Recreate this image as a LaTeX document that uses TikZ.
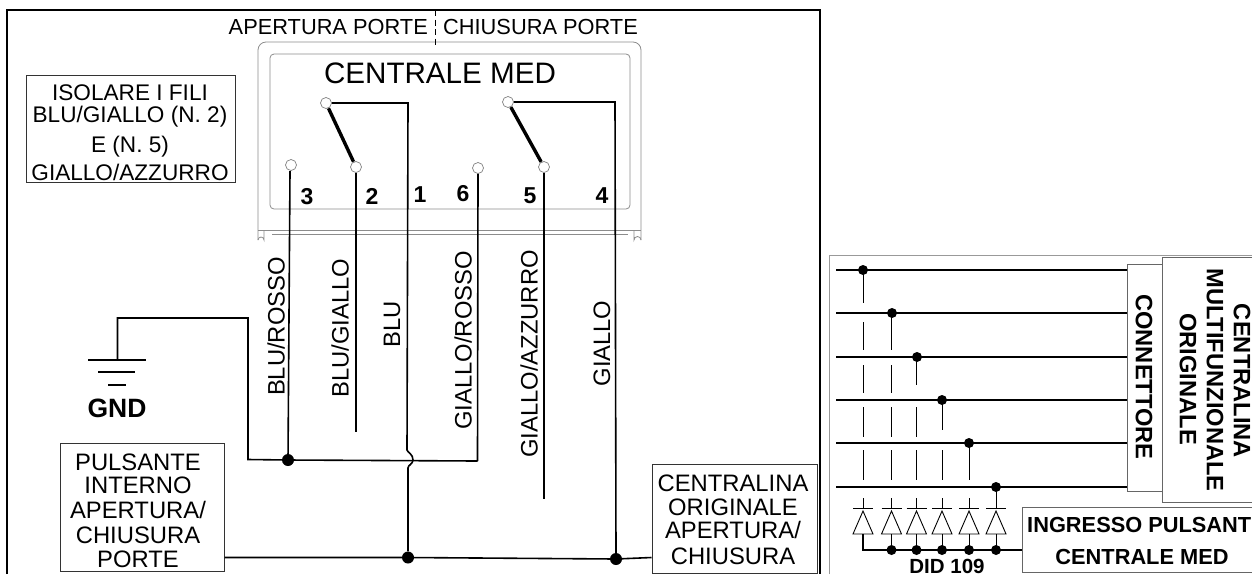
\documentclass[tikz,border=0pt]{standalone}
\usepackage{fontspec}
\setmainfont{Liberation Sans}
\tikzset{
  wire/.style={line width=1.6pt,black},
  thin wire/.style={line width=1.1pt,black},
  shell/.style={line width=0.8pt,black!45},
  dotmark/.style={circle,fill=black,inner sep=0pt,minimum size=12pt},
  smalldot/.style={circle,fill=black,inner sep=0pt,minimum size=10pt},
  term/.style={circle,draw=black!50,fill=white,line width=0.7pt,inner sep=0pt,minimum size=11pt},
  lab/.style={inner sep=0pt,font=\fontsize{23.8}{24}\selectfont},
  notelab/.style={inner sep=0pt,font=\fontsize{22.6}{23}\selectfont},
  toplab/.style={inner sep=0pt,font=\fontsize{21.8}{22}\selectfont},
  vlab/.style={inner sep=0pt,rotate=90,font=\fontsize{23.8}{24}\selectfont},
  num/.style={inner sep=0pt,font=\fontsize{23}{23}\selectfont\bfseries},
  blab/.style={inner sep=0pt,rotate=-90,font=\fontsize{23.7}{24}\selectfont\bfseries},
  bfl/.style={inner sep=0pt,font=\fontsize{21.8}{22}\selectfont\bfseries},
  stack/.style={draw=black!80,line width=1pt,inner sep=0pt},
  panelbox/.style={draw=black!60,line width=0.9pt,fill=white,inner sep=0pt},
  diode/.style={line width=0.9pt,black}
}
\begin{document}
\begin{tikzpicture}[x=1pt,y=-1pt]
\useasboundingbox (0,0) rectangle (1252,574);
\clip (0,0) rectangle (1252,574);
% frames
\draw[line width=1.2pt] (7,574) -- (7,10) -- (820,10) -- (820,574);
\draw[line width=0.9pt,black!40] (829,574) -- (829,255) -- (1252,255);
% shell
\draw[shell,rounded corners=8pt] (258,240) -- (258,42) -- (641,42) -- (641,240);
\draw[shell,rounded corners=4pt] (270,209) -- (270,54) -- (630,54) -- (630,209) -- cycle;
\draw[shell] (258,230) -- (641,230);
\draw[shell] (272,234) -- (628,234);
\draw[shell] (264,230) -- (264,240) arc (0:180:3pt);
\draw[shell] (634,230) -- (634,240) arc (180:0:3.5pt);
% top texts
\node[toplab,anchor=east] (ap) at (428,27) {APERTURA PORTE};
\node[toplab,anchor=west] (ch) at (443,27) {CHIUSURA PORTE};
\coordinate (dt) at (435.5,10); \coordinate (db) at (435.5,46);
\draw[line width=1.8pt,dash pattern=on 6pt off 3.5pt] (dt) -- (db);
\node[inner sep=0pt,font=\fontsize{29.6}{30}\selectfont] (cm) at (440,73) {CENTRALE MED};
% note box
\node[stack,minimum width=209pt,minimum height=107pt] (note) at (130.5,128.5) {};
\node[notelab] (n1) at (130,93) {ISOLARE I FILI};
\node[notelab] (n2) at (130,117) {BLU/GIALLO (N. 2)};
\node[notelab] (n3) at (130,147) {E (N. 5)};
\node[notelab] (n4) at (130,172) {GIALLO/AZZURRO};
% terminals & wires
\coordinate (j1a) at (407,450); \coordinate (j1b) at (408,468);
\coordinate (gc) at (248,318); \coordinate (gt) at (117.5,318); \coordinate (gb) at (117.5,360);
\node[term] (t3) at (291,165) {};
\node[term] (t2) at (356,167) {};
\node[term] (t1) at (326,103) {};
\node[term] (t6) at (478,168) {};
\node[term] (t5) at (544,167) {};
\node[term] (t4) at (508,102) {};
\node[dotmark] (d3) at (288,460) {};
\node[dotmark] (db1) at (408,557.5) {};
\node[dotmark] (db4) at (616,559) {};
\coordinate (e2) at (356,432);
\coordinate (e5) at (544,499);
\coordinate (e6) at (477.5,461);
\draw[line width=3.4pt] (t1) -- (t2);
\draw[line width=3.4pt] (t4) -- (t5);
\draw[wire] (t1.east) -- (408,103) -- (j1a) .. controls (408,453) and (413,454) .. (413,460) .. controls (413,464) and (408,465) .. (j1b) -- (db1);
\draw[wire] (t4.east) -- (615,102) -- (db4);
\draw[wire] (290,171) -- (d3);
\draw[wire] (t2.south) -- (e2);
\draw[wire] (t6.south) -- (e6);
\draw[wire] (t5.south) -- (e5);
\draw[wire] (gb) -- (gt) -- (gc) -- (248,459.5) -- (d3) -- (e6);
% ground
\draw[line width=1.6pt] (88,360) -- (146,360);
\draw[line width=1.6pt] (98,372) -- (135,372);
\draw[line width=1.6pt] (108,385) -- (126,385);
\node[inner sep=0pt,font=\fontsize{26.5}{27}\selectfont\bfseries] (gnd) at (117,408) {GND};
% numbers
\node[num] (n3n) at (307,197) {3};
\node[num] (n2n) at (372,196) {2};
\node[num] (n1n) at (420,195) {1};
\node[num] (n6n) at (463,194) {6};
\node[num] (n5n) at (530,196) {5};
\node[num] (n4n) at (602,196) {4};
% wire labels
\node[vlab] (l1) at (276,326.5) {BLU/ROSSO};
\node[vlab] (l2) at (340,328) {BLU/GIALLO};
\node[vlab] (l3) at (392,324.5) {BLU};
\node[vlab] (l4) at (463,340.5) {GIALLO/ROSSO};
\node[vlab] (l5) at (529,354) {GIALLO/AZZURRO};
\node[vlab] (l6) at (602,343.5) {GIALLO};
% boxes
\node[stack,minimum width=164pt,minimum height=128pt] (puls) at (142,507) {};
\node[lab] at (138,462) {PULSANTE};
\node[lab] at (138,485) {INTERNO};
\node[lab] at (138,510) {APERTURA/};
\node[lab] at (138,535) {CHIUSURA};
\node[lab] at (138,559) {PORTE};
\node[stack,minimum width=165pt,minimum height=109pt] (cent) at (734.5,518.5) {};
\node[lab] at (733,483) {CENTRALINA};
\node[lab] at (733,507) {ORIGINALE};
\node[lab] at (733,530) {APERTURA/};
\node[lab] at (733,556) {CHIUSURA};
\draw[wire] (puls.east |- db1) -- (db1) -- (db4) -- (cent.west |- db1);
% right panel
\node[panelbox,minimum width=35pt,minimum height=227pt] (conn) at (1144.5,377.5) {};
\node[panelbox,minimum width=100pt,minimum height=245pt] (cmf) at (1212,379.5) {};
\node[blab] at (1144,377) {CONNETTORE};
\node[blab] at (1242,381) {CENTRALINA};
\node[blab] at (1215,380) {MULTIFUNZIONALE};
\node[blab] at (1188,379) {ORIGINALE};
\foreach \y/\x/\n in {270/863/a,313/892/b,357/917/c,400/942/d,443/969/e,487/996/f}{
  \node[smalldot] (h\n) at (\x,\y) {};
  \coordinate (s\n) at (836,\y);
  \draw[thin wire] (s\n) -- (conn.west |- s\n);
}
% verticals
\foreach \x/\a/\b in {863/270/303,863/322/350,863/365/393,863/407/437,863/450/480,
  891.5/313/350,891.5/365/393,891.5/407/437,891.5/450/480,
  916.5/357/385,916.5/407/437,916.5/450/480,
  942/400/430,942/450/480,
  969/443/480}{
  \draw[line width=0.9pt] (\x,\a) -- (\x,\b);
}
\draw[line width=0.9pt] (996,487) -- (996,508);
% diodes
\foreach \x/\n in {863/a,891.5/b,916.5/c,942/d,969/e,996/f}{
  \draw[diode] (\x-10,508) -- (\x+10,508);
  \draw[diode] (\x,498) -- (\x,508);
  \draw[diode,line join=miter] (\x,511) -- (\x+10,534) -- (\x-10,534) -- cycle;
  \coordinate (base\n) at (\x,534);
  \coordinate (bus\n) at (\x,550);
}
\node[panelbox,minimum width=240pt,minimum height=65pt] (ing) at (1142,539.5) {};
\draw[line width=1.2pt] (basea) -- (busa) -- (ing.west |- busa);
\foreach \n in {b,c,d,e,f}{
  \draw[line width=0.9pt] (base\n) -- (bus\n);
  \node[smalldot] at (bus\n) {};
}
\node[bfl,anchor=west] at (1027,525) {INGRESSO PULSANT};
\node[bfl] at (1142,557) {CENTRALE MED};
\node[inner sep=0pt,font=\fontsize{20.5}{21}\selectfont\bfseries] at (947,566) {DID 109};
\end{tikzpicture}
\end{document}
